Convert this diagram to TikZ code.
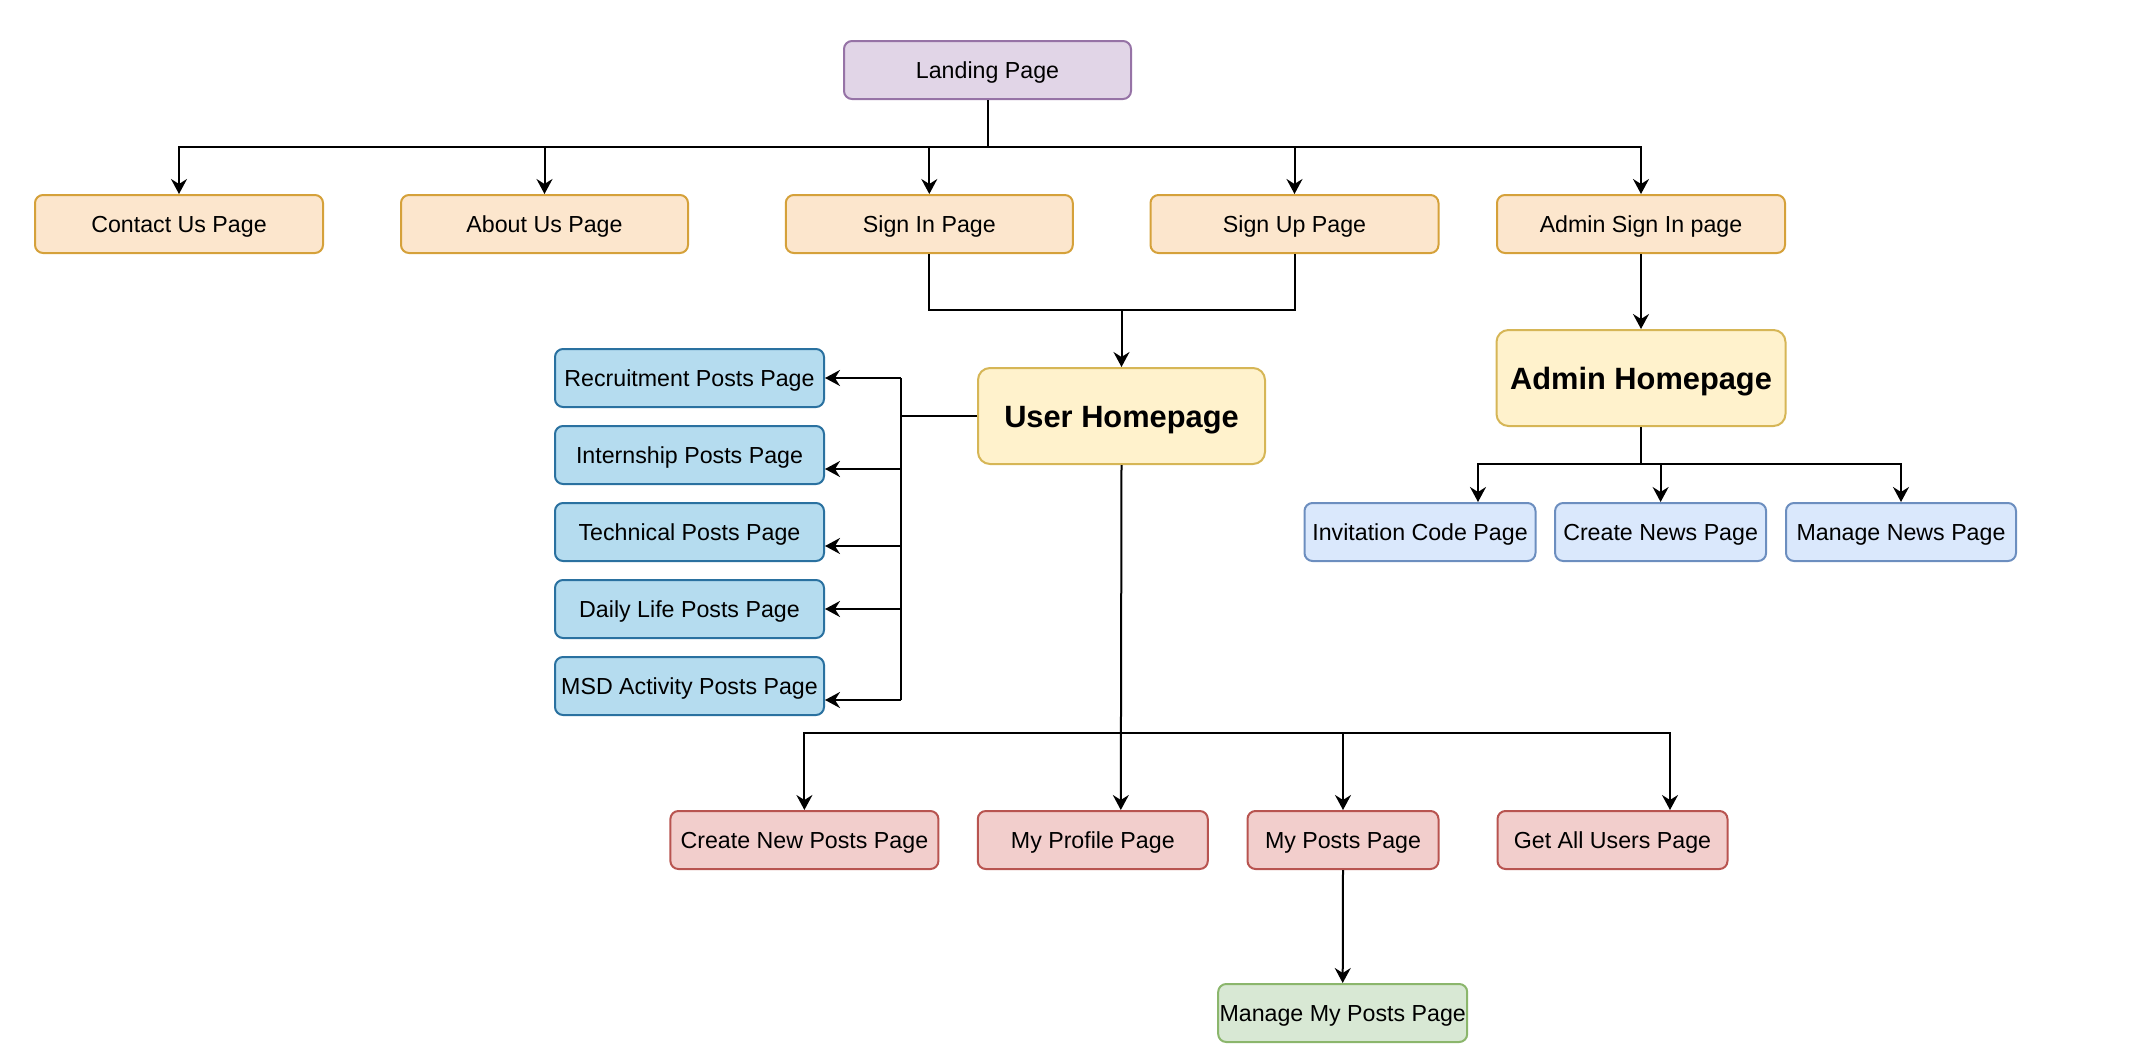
\documentclass[tikz,border=0pt]{standalone}
\usepackage{fontspec}
\setmainfont{Liberation Sans}
\usetikzlibrary{arrows.meta,calc}
\definecolor{purpF}{HTML}{E1D5E7}\definecolor{purpD}{HTML}{9673A6}
\definecolor{orgF}{HTML}{FCE6CD}\definecolor{orgD}{HTML}{D5A13A}
\definecolor{yelF}{HTML}{FFF2CC}\definecolor{yelD}{HTML}{D6B656}
\definecolor{bluF}{HTML}{B5DCEF}\definecolor{bluD}{HTML}{2A71A0}
\definecolor{lbF}{HTML}{DAE8FC}\definecolor{lbD}{HTML}{6C8EBF}
\definecolor{redF}{HTML}{F2CECC}\definecolor{redD}{HTML}{B85450}
\definecolor{grnF}{HTML}{D8E8D4}\definecolor{grnD}{HTML}{8BB66C}
\begin{document}
\begin{tikzpicture}[x=0.5pt,y=-0.5pt,
  pg/.style={draw, line width=1pt, rounded corners=4pt, inner sep=0pt, align=center,
    font=\fontsize{11.6}{14}\selectfont, text=black, text height=11pt, text depth=2.6pt},
  hp/.style={pg, rounded corners=6pt, font=\fontsize{15.4}{18}\selectfont\bfseries,
    text height=13pt, text depth=2pt},
  sz/.style 2 args={minimum width={#1*0.5pt}, minimum height={#2*0.5pt}},
  purp/.style={fill=purpF, draw=purpD},
  org/.style={fill=orgF, draw=orgD},
  yel/.style={fill=yelF, draw=yelD},
  blu/.style={fill=bluF, draw=bluD},
  lb/.style={fill=lbF, draw=lbD},
  red/.style={fill=redF, draw=redD},
  grn/.style={fill=grnF, draw=grnD},
  conn/.style={draw=black, line width=1pt},
  arr/.style={conn, -{Stealth[length=7.5pt, width=8pt, inset=2.5pt]}}
]
\useasboundingbox (0,0) rectangle (2138,1060);

% nodes
\node[pg, purp, sz={287}{58}] (landing) at (987.5,70) {Landing Page};
\node[pg, org, sz={288}{58}] (contact) at (179,224) {Contact Us Page};
\node[pg, org, sz={287}{58}] (about) at (544.5,224) {About Us Page};
\node[pg, org, sz={287}{58}] (signin) at (929.3,224) {Sign In Page};
\node[pg, org, sz={288}{58}] (signup) at (1294.5,224) {Sign Up Page};
\node[pg, org, sz={288}{58}] (adminsignin) at (1641,224) {Admin Sign In page};

\node[hp, yel, sz={287}{96}] (userhp) at (1121.5,416) {User Homepage};
\node[hp, yel, sz={289}{96}] (adminhp) at (1641,378) {Admin Homepage};

\node[pg, blu, sz={269}{58}] (recruit) at (689.5,378) {Recruitment Posts Page};
\node[pg, blu, sz={269}{58}] (intern) at (689.5,455) {Internship Posts Page};
\node[pg, blu, sz={269}{58}] (tech) at (689.5,532) {Technical Posts Page};
\node[pg, blu, sz={269}{58}] (daily) at (689.5,609) {Daily Life Posts Page};
\node[pg, blu, sz={269}{58}] (msd) at (689.5,686) {MSD Activity Posts Page};

\node[pg, lb, sz={231}{58}] (invite) at (1420,532) {Invitation Code Page};
\node[pg, lb, sz={211}{58}] (createnews) at (1660.6,532) {Create News Page};
\node[pg, lb, sz={230}{58}] (managenews) at (1901,532) {Manage News Page};

\node[pg, red, sz={268}{58}] (createposts) at (804.4,840) {Create New Posts Page};
\node[pg, red, sz={230}{58}] (profile) at (1092.8,840) {My Profile Page};
\node[pg, red, sz={191}{58}] (myposts) at (1343,840) {My Posts Page};
\node[pg, red, sz={230}{58}] (allusers) at (1612.5,840) {Get All Users Page};

\node[pg, grn, sz={249}{58}] (managemy) at (1342.7,1013) {Manage My Posts Page};

% bus and entry coordinates
\coordinate (busTop) at (0,147);
\coordinate (busSign) at (0,310);
\coordinate (busLeft) at (901,0);
\coordinate (busUser) at (0,733);
\coordinate (busAdmin) at (0,464);
\coordinate (internIn) at ([yshift=-7pt]intern.east);
\coordinate (techIn) at ([yshift=-7pt]tech.east);
\coordinate (msdIn) at ([yshift=-7pt]msd.east);
\coordinate (inviteIn) at ([xshift=29pt]invite.north);
\coordinate (profileIn) at ([xshift=14pt]profile.north);
\coordinate (allusersIn) at ([xshift=28.75pt]allusers.north);

% landing page fan-out
\draw[arr] (landing.south) -- (landing.south |- busTop) -| (contact.north);
\draw[arr] (landing.south |- busTop) -| (about.north);
\draw[arr] (landing.south |- busTop) -| (signin.north);
\draw[arr] (landing.south |- busTop) -| (signup.north);
\draw[arr] (landing.south |- busTop) -| (adminsignin.north);

% sign in / sign up to user homepage
\draw[arr] (signin.south) |- (userhp.north |- busSign) -- (userhp.north);
\draw[conn] (signup.south) |- (userhp.north |- busSign);

% admin
\draw[arr] (adminsignin.south) -- (adminhp.north);
\draw[conn] (adminhp.south) -- (adminhp.south |- busAdmin);
\draw[arr] (adminhp.south |- busAdmin) -| (inviteIn);
\draw[arr] (adminhp.south |- busAdmin) -| (createnews.north);
\draw[arr] (adminhp.south |- busAdmin) -| (managenews.north);

% user homepage to post categories
\draw[conn] (userhp.west) -- (busLeft |- userhp.west);
\draw[conn] (busLeft |- recruit.east) -- (busLeft |- msdIn);
\draw[arr] (busLeft |- recruit.east) -- (recruit.east);
\draw[arr] (busLeft |- internIn) -- (internIn);
\draw[arr] (busLeft |- techIn) -- (techIn);
\draw[arr] (busLeft |- daily.east) -- (daily.east);
\draw[arr] (busLeft |- msdIn) -- (msdIn);

% user homepage to bottom row
\draw[arr] (userhp.south) -- (profileIn);
\draw[arr] (userhp.south |- busUser) -| (createposts.north);
\draw[arr] (userhp.south |- busUser) -| (myposts.north);
\draw[arr] (userhp.south |- busUser) -| (allusersIn);

% my posts to manage
\draw[arr] (myposts.south) -- (managemy.north);
\end{tikzpicture}
\end{document}
